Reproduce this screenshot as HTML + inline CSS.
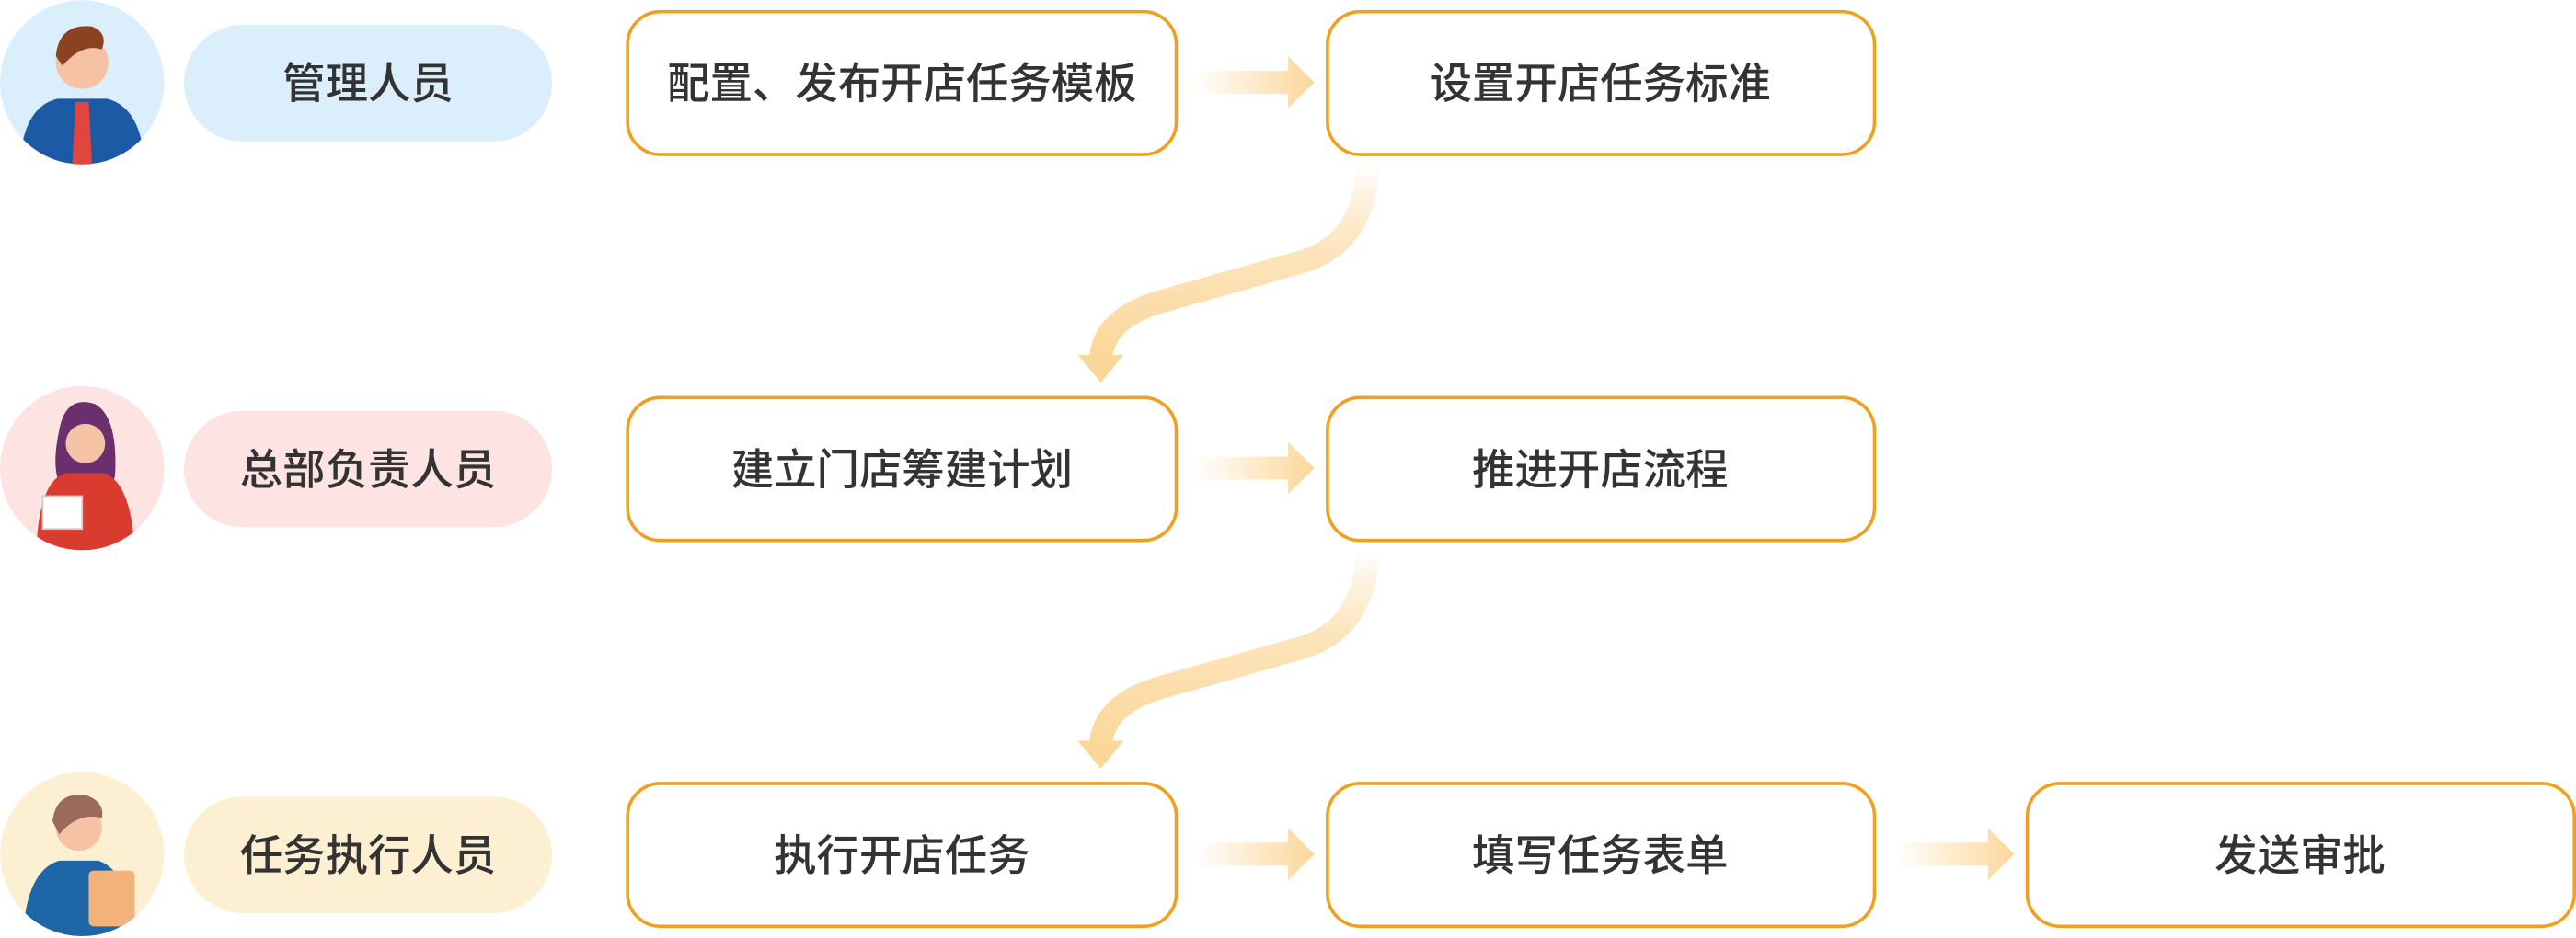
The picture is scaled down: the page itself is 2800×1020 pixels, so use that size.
<!DOCTYPE html>
<html><head><meta charset="utf-8"><style>
html,body{margin:0;padding:0;background:#fff;}
svg{display:block;}
text{font-family:"Liberation Sans","Noto Sans CJK SC",sans-serif;font-size:26px;font-weight:500;fill:#333;text-anchor:middle;dominant-baseline:central;}
</style></head><body>
<svg width="2800" height="1020" viewBox="0 0 1568 571" xmlns="http://www.w3.org/2000/svg">
<defs>
<linearGradient id="hg" x1="0" x2="1" y1="0" y2="0"><stop offset="0" stop-color="#fcd79a" stop-opacity="0"/><stop offset="1" stop-color="#fcd79a"/></linearGradient>
<linearGradient id="vg" x1="0" x2="0" y1="0" y2="1"><stop offset="0" stop-color="#fcd79a" stop-opacity="0"/><stop offset="0.5" stop-color="#fce3b8"/><stop offset="1" stop-color="#fcd79a"/></linearGradient>
<clipPath id="c1"><circle cx="50" cy="50" r="50"/></clipPath>
<clipPath id="c2"><circle cx="50" cy="285" r="50"/></clipPath>
<clipPath id="c3"><circle cx="50" cy="520" r="50"/></clipPath>
</defs>
<g clip-path="url(#c1)">
<circle cx="50" cy="50" r="50" fill="#dbeefc"/>
<path d="M12 100 Q14 65 35 60 L65 60 Q86 65 88 100 Z" fill="#1d5aa6"/>
<path d="M46 62 L54 62 L56 100 L44 100 Z" fill="#e0453e"/>
<circle cx="50" cy="38" r="16" fill="#f6c2a6"/>
<path d="M34 34 Q36 14 56 16 Q66 20 62 30 Q50 26 38 40 Z" fill="#8b4223"/>
</g>
<g clip-path="url(#c2)">
<circle cx="50" cy="285" r="50" fill="#fde3e1"/>
<path d="M36 262 Q40 240 58 246 Q72 254 70 290 Q66 300 62 300 L40 300 Q30 290 36 262Z" fill="#6b2f6e"/>
<circle cx="52" cy="270" r="12" fill="#f6c2a6"/>
<path d="M22 335 Q24 292 40 288 L64 288 Q80 295 82 335 Z" fill="#d93b2f"/>
<rect x="26" y="302" width="24" height="20" fill="#fff" stroke="#ccc"/>
</g>
<g clip-path="url(#c3)">
<circle cx="50" cy="520" r="50" fill="#fdf0d2"/>
<path d="M14 570 Q16 530 36 524 L60 524 Q78 530 82 570 Z" fill="#1f66a6"/>
<circle cx="48" cy="504" r="14" fill="#f6c2a6"/>
<path d="M32 500 Q34 482 52 484 Q64 488 62 498 Q48 494 36 508Z" fill="#9b6a5d"/>
<rect x="54" y="530" width="28" height="34" rx="3" fill="#f3b27a"/>
</g>
<rect x="112" y="15" width="224" height="71" rx="35.5" fill="#dbeefc"/>
<text x="224" y="51">管理人员</text>
<rect x="112" y="250" width="224" height="71" rx="35.5" fill="#fde3e1"/>
<text x="224" y="286">总部负责人员</text>
<rect x="112" y="485" width="224" height="71" rx="35.5" fill="#fdf0d2"/>
<text x="224" y="521">任务执行人员</text>
<g fill="#fff" stroke="#f0a020" stroke-width="2">
<rect x="382" y="7" width="334" height="87" rx="20"/>
<rect x="808" y="7" width="333" height="87" rx="20"/>
<rect x="382" y="242" width="334" height="87" rx="20"/>
<rect x="808" y="242" width="333" height="87" rx="20"/>
<rect x="382" y="477" width="334" height="87" rx="20"/>
<rect x="808" y="477" width="333" height="87" rx="20"/>
<rect x="1234" y="477" width="333" height="87" rx="20"/>
</g>
<text x="549" y="51">配置、发布开店任务模板</text>
<text x="974" y="51">设置开店任务标准</text>
<text x="549" y="286">建立门店筹建计划</text>
<text x="974" y="286">推进开店流程</text>
<text x="549" y="521">执行开店任务</text>
<text x="974" y="521">填写任务表单</text>
<text x="1400" y="521">发送审批</text>
<g fill="url(#hg)">
<path d="M727 43 L784 43 L784 34 L800 50 L784 66 L784 57 L727 57 Z"/>
<path d="M727 278 L784 278 L784 269 L800 285 L784 301 L784 292 L727 292 Z"/>
<path d="M727 513 L784 513 L784 504 L800 520 L784 536 L784 527 L727 527 Z"/>
<path d="M1153 513 L1210 513 L1210 504 L1226 520 L1210 536 L1210 527 L1153 527 Z"/>
</g>
<g fill="none" stroke="url(#vg)" stroke-width="14">
<path d="M833 100 Q830 150 790 160 L705 184 Q672 194 670 218"/>
<path d="M833 335 Q830 385 790 395 L705 419 Q672 429 670 453"/>
</g>
<path d="M656 216 L684 216 L670 233 Z" fill="#fcd79a"/>
<path d="M656 451 L684 451 L670 468 Z" fill="#fcd79a"/>
</svg>
</body></html>
